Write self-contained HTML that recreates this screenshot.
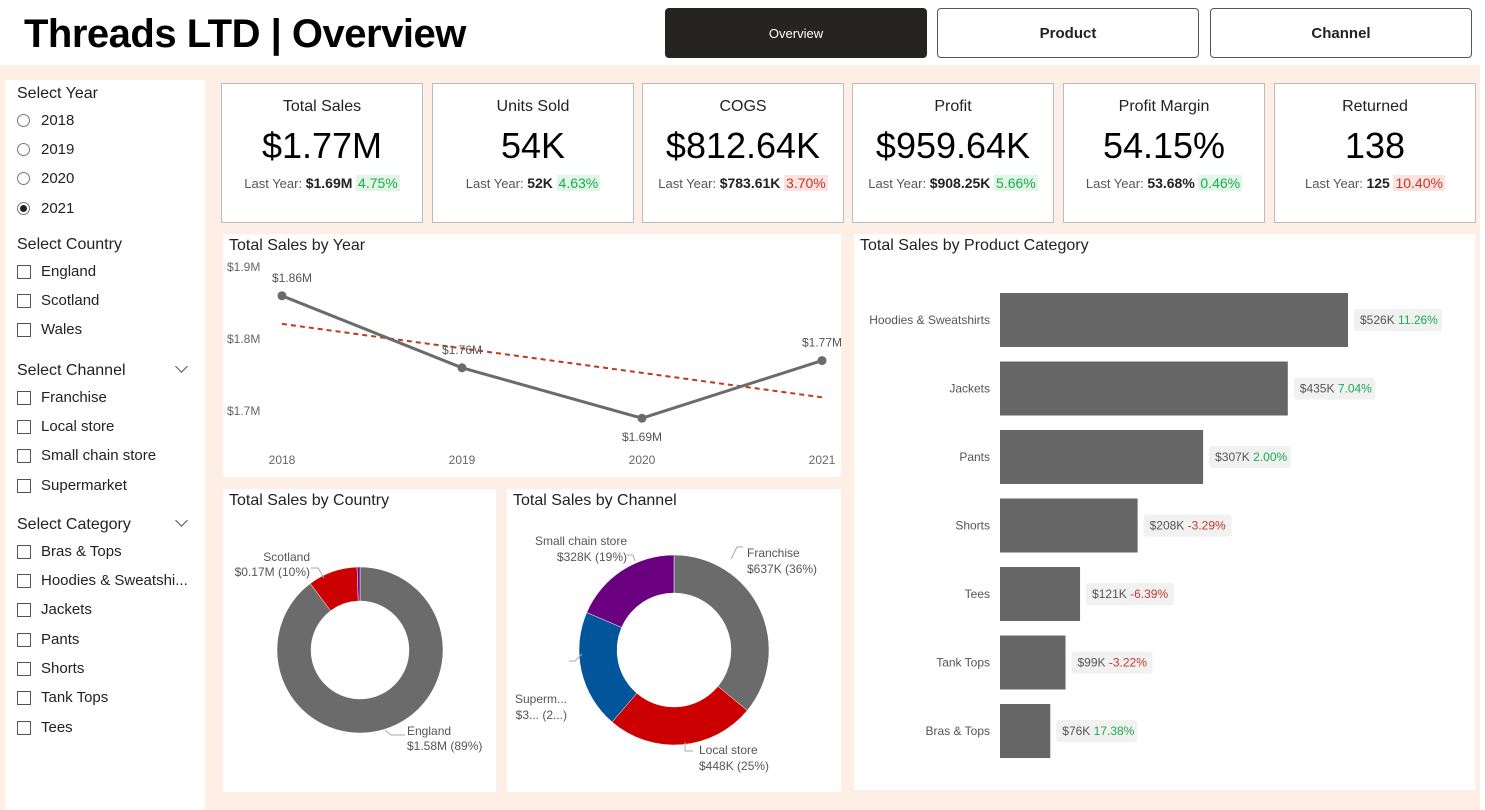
<!DOCTYPE html>
<html><head><meta charset="utf-8">
<style>
*{box-sizing:border-box;margin:0;padding:0}
body{width:1485px;height:810px;overflow:hidden;background:#fff;font-family:"Liberation Sans",sans-serif;color:#222;position:relative}
.abs{position:absolute}
#bg{left:0;top:65px;width:1480px;height:745px;background:#fdefe6}
.title{left:24px;top:12px;font-size:40px;font-weight:bold;color:#000;letter-spacing:-0.5px}
.nav{top:8px;height:50px;border:1px solid #555;border-radius:4px;background:#fff;font-size:15px;display:flex;align-items:center;justify-content:center;font-weight:bold;color:#222}
.nav.on{background:#252423;color:#fff;font-weight:normal;font-size:13px;border-color:#252423}
#side{left:5px;top:80px;width:200px;height:730px;background:#fff}
.sh{position:absolute;left:12px;font-size:16px;color:#222}
.it{position:absolute;left:12px;font-size:15px;color:#222;display:flex;align-items:center}
.cb{width:14px;height:14px;border:1px solid #555;margin-right:10px;background:#fff}
.rb{width:13px;height:13px;border:1px solid #777;border-radius:50%;margin-right:11px;position:relative}
.rb.on::after{content:"";position:absolute;left:2px;top:2px;width:7px;height:7px;border-radius:50%;background:#222}
.chev{position:absolute;left:172px;width:9px;height:9px;border-right:1.5px solid #555;border-bottom:1.5px solid #555;transform:rotate(45deg)}
.kpi{top:83px;height:140px;width:202px;background:#fff;border:1px solid #bbb;text-align:center}
.kpi .h{margin-top:14px;font-size:16px}
.kpi .v{margin-top:10px;font-size:36px;color:#000;line-height:40px}
.kpi .l{margin-top:9px;font-size:13px;color:#555}
.kpi .l b{color:#222;font-size:14px}
.g{color:#1aab4b;background:#e2f6e8;padding:0 2px;font-size:14px}
.r{color:#c0392b;background:#fde3df;padding:0 2px;font-size:14px}
.panel{background:#fff}
.pt{position:absolute;left:6px;top:3px;font-size:16px;color:#222}
svg text{font-family:"Liberation Sans",sans-serif}
</style></head><body>
<div id="bg" class="abs"></div>
<div class="abs title">Threads LTD | Overview</div>
<div class="abs nav on" style="left:665px;width:262px">Overview</div>
<div class="abs nav" style="left:937px;width:262px">Product</div>
<div class="abs nav" style="left:1210px;width:262px">Channel</div>

<div id="side" class="abs">
<div class="sh" style="top:5px">Select Year</div>
<div class="it" style="top:32px"><span class="rb"></span>2018</div>
<div class="it" style="top:61px"><span class="rb"></span>2019</div>
<div class="it" style="top:90px"><span class="rb"></span>2020</div>
<div class="it" style="top:120px"><span class="rb on"></span>2021</div>
<div class="sh" style="top:156px">Select Country</div>
<div class="it" style="top:183px"><span class="cb"></span>England</div>
<div class="it" style="top:212px"><span class="cb"></span>Scotland</div>
<div class="it" style="top:241px"><span class="cb"></span>Wales</div>
<div class="sh" style="top:282px">Select Channel</div>
<div class="chev" style="top:282px"></div>
<div class="it" style="top:309px"><span class="cb"></span>Franchise</div>
<div class="it" style="top:338px"><span class="cb"></span>Local store</div>
<div class="it" style="top:367px"><span class="cb"></span>Small chain store</div>
<div class="it" style="top:397px"><span class="cb"></span>Supermarket</div>
<div class="sh" style="top:436px">Select Category</div>
<div class="chev" style="top:436px"></div>
<div class="it" style="top:463px"><span class="cb"></span>Bras &amp; Tops</div>
<div class="it" style="top:492px"><span class="cb"></span>Hoodies &amp; Sweatshi...</div>
<div class="it" style="top:521px"><span class="cb"></span>Jackets</div>
<div class="it" style="top:551px"><span class="cb"></span>Pants</div>
<div class="it" style="top:580px"><span class="cb"></span>Shorts</div>
<div class="it" style="top:609px"><span class="cb"></span>Tank Tops</div>
<div class="it" style="top:639px"><span class="cb"></span>Tees</div>
</div>

<div class="abs kpi" style="left:221px"><div class="h">Total Sales</div><div class="v">$1.77M</div><div class="l">Last Year: <b>$1.69M</b> <span class="g">4.75%</span></div></div>
<div class="abs kpi" style="left:432px"><div class="h">Units Sold</div><div class="v">54K</div><div class="l">Last Year: <b>52K</b> <span class="g">4.63%</span></div></div>
<div class="abs kpi" style="left:642px"><div class="h">COGS</div><div class="v">$812.64K</div><div class="l">Last Year: <b>$783.61K</b> <span class="r">3.70%</span></div></div>
<div class="abs kpi" style="left:852px"><div class="h">Profit</div><div class="v">$959.64K</div><div class="l">Last Year: <b>$908.25K</b> <span class="g">5.66%</span></div></div>
<div class="abs kpi" style="left:1063px"><div class="h">Profit Margin</div><div class="v">54.15%</div><div class="l">Last Year: <b>53.68%</b> <span class="g">0.46%</span></div></div>
<div class="abs kpi" style="left:1274px"><div class="h">Returned</div><div class="v">138</div><div class="l">Last Year: <b>125</b> <span class="r">10.40%</span></div></div>

<div class="abs panel" style="left:223px;top:234px;width:618px;height:243px">
<div class="pt">Total Sales by Year</div>
<svg id="lineSvg" class="abs" style="left:0;top:0" width="618" height="243"></svg></div>

<div class="abs panel" style="left:223px;top:489px;width:273px;height:303px">
<div class="pt">Total Sales by Country</div>
<svg id="ctrySvg" class="abs" style="left:0;top:0" width="273" height="303"></svg></div>

<div class="abs panel" style="left:507px;top:489px;width:334px;height:303px">
<div class="pt">Total Sales by Channel</div>
<svg id="chanSvg" class="abs" style="left:0;top:0" width="334" height="303"></svg></div>

<div class="abs panel" style="left:854px;top:234px;width:621px;height:556px">
<div class="pt">Total Sales by Product Category</div>
<svg id="barSvg" class="abs" style="left:0;top:0" width="621" height="556"></svg></div>

<script>
const NS="http://www.w3.org/2000/svg";
function mk(p,t,a,txt){const e=document.createElementNS(NS,t);for(const k in a)e.setAttribute(k,a[k]);if(txt!==undefined)e.textContent=txt;p.appendChild(e);return e;}

// ---- line chart data
const years=["2018","2019","2020","2021"];
const yearSales=[1.86,1.76,1.69,1.77];
const yearLabels=["$1.86M","$1.76M","$1.69M","$1.77M"];
const yTicks=[1.9,1.8,1.7];
const yTickLabels=["$1.9M","$1.8M","$1.7M"];
// ---- country donut
const countries=["England","Scotland","Wales"];
const countrySales=[1.58,0.17,0.01];
const countryLabels=["$1.58M (89%)","$0.17M (10%)","$0.01M (1%)"];
// ---- channel donut
const channels=["Franchise","Local store","Supermarket","Small chain store"];
const channelSales=[637,448,357,328];
const channelLabels=["$637K (36%)","$448K (25%)","$3... (2...)","$328K (19%)"];
// ---- bar chart
const categories=["Hoodies & Sweatshirts","Jackets","Pants","Shorts","Tees","Tank Tops","Bras & Tops"];
const catSales=[526,435,307,208,121,99,76];
const catValueLabels=["$526K","$435K","$307K","$208K","$121K","$99K","$76K"];
const catDelta=[11.26,7.04,2.00,-3.29,-6.39,-3.22,17.38];

// line chart
(function(){
const s=document.getElementById("lineSvg");
const x0=59,x1=599;
const xs=i=>x0+(x1-x0)*i/(years.length-1);
const ys=v=>33+(1.9-v)*720;
yTicks.forEach((t,i)=>{const e=mk(s,"text",{x:4,y:ys(t)+4,"font-size":12,fill:"#666"},yTickLabels[i]);

});
years.forEach((y,i)=>{const e=mk(s,"text",{x:xs(i),y:230,"font-size":12,fill:"#666","text-anchor":"middle"},y);

});
const n=yearSales.length;let mx=(n-1)/2,my=yearSales.reduce((a,b)=>a+b)/n,num=0,den=0;
yearSales.forEach((v,i)=>{num+=(i-mx)*(v-my);den+=(i-mx)*(i-mx);});
const sl=num/den,ic=my-sl*mx;
const tr=mk(s,"line",{x1:xs(0),y1:ys(ic),x2:xs(n-1),y2:ys(ic+sl*(n-1)),stroke:"#c0391b","stroke-width":2,"stroke-dasharray":"5,4"});


const pl=mk(s,"polyline",{points:yearSales.map((v,i)=>xs(i)+","+ys(v)).join(" "),fill:"none",stroke:"#6b6b6b","stroke-width":3});


yearSales.forEach((v,i)=>{
const c=mk(s,"circle",{cx:xs(i),cy:ys(v),r:4.5,fill:"#6b6b6b"});


const below=i>0&&i<n-1&&v<yearSales[i-1]&&v<yearSales[i+1];
const t=mk(s,"text",{x:xs(i)+(i==0?10:0),y:below?ys(v)+23:ys(v)-14,"font-size":12,fill:"#555","text-anchor":"middle"},yearLabels[i]);

});
})();

function arcPath(cx,cy,r0,r1,a0,a1){
const p=(r,a)=>[cx+r*Math.sin(a),cy-r*Math.cos(a)];
const lg=(a1-a0)>Math.PI?1:0;
const A=p(r1,a0),B=p(r1,a1),C=p(r0,a1),D=p(r0,a0);
return `M${A}A${r1},${r1} 0 ${lg} 1 ${B}L${C}A${r0},${r0} 0 ${lg} 0 ${D}Z`;}
function donut(id,vals,cols,cx,cy,r0,r1,name){
const s=document.getElementById(id);const tot=vals.reduce((a,b)=>a+b);let a=0;
vals.forEach((v,i)=>{const a1=a+v/tot*2*Math.PI;
const e=mk(s,"path",{d:arcPath(cx,cy,r0,r1,a,a1),fill:cols[i],stroke:"#fff","stroke-width":0.5});

a=a1;});
return s;}
(function(){
const s=donut("ctrySvg",countrySales,["#6b6b6b","#cc0000","#6a0080"],137,161,49,83,"country-slice");
mk(s,"polyline",{points:"162,241 168,246 182,246",fill:"none",stroke:"#aaa"});
mk(s,"polyline",{points:"88,79 95,79 101,89",fill:"none",stroke:"#aaa"});
[["England",184,246],[countryLabels[0],184,261],["Scotland",87,72],[countryLabels[1],87,87]].forEach((d,i)=>{
const t=mk(s,"text",{x:d[1],y:d[2],"font-size":12,fill:"#555","text-anchor":i<2?"start":"end"},d[0]);

});
})();
(function(){
const s=donut("chanSvg",channelSales,["#6b6b6b","#cc0000","#00559b","#6a0080"],167,161,57,95,"channel-slice");
mk(s,"polyline",{points:"224,70 230,58 236,58",fill:"none",stroke:"#aaa"});
mk(s,"polyline",{points:"178,253 178,262 186,262",fill:"none",stroke:"#aaa"});
mk(s,"polyline",{points:"120,66 126,66 128,72",fill:"none",stroke:"#aaa"});
mk(s,"polyline",{points:"62,172 68,172 75,165",fill:"none",stroke:"#aaa"});
[["Franchise",240,68,"start"],[channelLabels[0],240,84,"start"],["Local store",192,265,"start"],[channelLabels[1],192,281,"start"],
["Superm...",60,214,"end"],[channelLabels[2],60,230,"end"],["Small chain store",120,56,"end"],[channelLabels[3],120,72,"end"]].forEach(d=>{
const t=mk(s,"text",{x:d[1],y:d[2],"font-size":12,fill:"#555","text-anchor":d[3]},d[0]);

});
})();
(function(){
const s=document.getElementById("barSvg");
const bx=146,scale=348/526,top0=59,pitch=68.5,bh=54;
categories.forEach((c,i)=>{
const y=top0+i*pitch,w=catSales[i]*scale;
const t=mk(s,"text",{x:136,y:y+bh/2+4,"font-size":12,fill:"#555","text-anchor":"end"},c);


const r=mk(s,"rect",{x:bx,y:y,width:w,height:bh,fill:"#666"});


const dl=catDelta[i].toFixed(2)+"%";
const lw=catValueLabels[i].length*7+dl.length*6.5+14;
const bg=mk(s,"rect",{x:bx+w+6,y:y+bh/2-11,width:lw,height:22,rx:3,fill:"#f1f1f1"});


const tx=mk(s,"text",{x:bx+w+12,y:y+bh/2+4,"font-size":12,fill:"#555"});


mk(tx,"tspan",{},catValueLabels[i]+" ");
mk(tx,"tspan",{fill:catDelta[i]>=0?"#1aab4b":"#c0392b"},dl);
});
})();
</script>
</body></html>
